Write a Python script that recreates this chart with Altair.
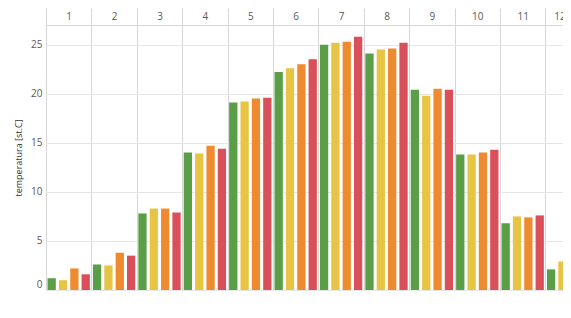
import altair as alt
import pandas as pd

months = list(range(1, 13))
series = ["seria 1", "seria 2", "seria 3", "seria 4"]
colors = ["#5a9e48", "#e8c444", "#ee8b30", "#d9505a"]

green = [1.2, 2.6, 7.8, 14.0, 19.1, 22.2, 25.0, 24.1, 20.4, 13.8, 6.8, 2.1]
yellow = [1.0, 2.5, 8.3, 13.9, 19.2, 22.6, 25.2, 24.5, 19.8, 13.8, 7.5, 2.9]
orange = [2.2, 3.8, 8.3, 14.7, 19.5, 23.0, 25.3, 24.6, 20.5, 14.0, 7.4, 3.7]
red = [1.6, 3.5, 7.9, 14.4, 19.6, 23.5, 25.8, 25.2, 20.4, 14.3, 7.6, 3.3]

rows = []
for i, m in enumerate(months):
    for j, (s, vals) in enumerate(zip(series, [green, yellow, orange, red])):
        rows.append({"miesiac": m, "idx": j, "seria": s, "temperatura": vals[i]})
df = pd.DataFrame(rows)

FONT = "Open Sans"
COL_PX = 45.4          # width of one month column in pixels
PLOT_W = 517           # visible part of the plot (the 12th month is cut off)
PLOT_H = 265

chart = (
    alt.Chart(df)
    .transform_calculate(
        x0="(datum.miesiac - 1) + 0.25 * (datum.idx + 0.135)",
        x1="(datum.miesiac - 1) + 0.25 * (datum.idx + 0.135) + 0.25 * 0.73",
    )
    .mark_bar(clip=True)
    .encode(
        x=alt.X(
            "x0:Q",
            scale=alt.Scale(domain=[0, PLOT_W / COL_PX], nice=False, zero=False),
            axis=alt.Axis(
                orient="top", title=None, labelAngle=0,
                values=[m - 1 for m in months],
                labelExpr="'' + (datum.value + 1)",
                labelOffset={"condition": {"test": "datum.value === 11", "value": 14},
                             "value": COL_PX / 2},
                labelAlign="center", labelFlush=False,
                grid=True, gridColor="#d6d6d6", ticks=True, tickSize=17,
                tickColor="#d6d6d6", domain=True, domainColor="#d6d6d6",
                labelPadding=-13, labelFontSize=10, labelColor="#595959",
                labelFont=FONT, labelBound=False, labelOverlap=False,
            ),
        ),
        x2="x1:Q",
        y=alt.Y(
            "temperatura:Q",
            scale=alt.Scale(domain=[0, 27], nice=False),
            axis=alt.Axis(
                title="temperatura [st.C]", values=[0, 5, 10, 15, 20, 25],
                titleFontSize=9, titleFontWeight="normal", titleColor="#333333",
                titleFont=FONT, labelFont=FONT,
                labelFontSize=10, labelColor="#595959", ticks=False, domain=False,
                labelOffset={"condition": {"test": "datum.value === 0", "value": -6}, "value": 0},
                grid=True, gridColor="#e6e6e6", labelPadding=4, titlePadding=7,
            ),
        ),
        y2=alt.datum(0),
        color=alt.Color("seria:N", sort=series,
                        scale=alt.Scale(domain=series, range=colors), legend=None),
    )
    .properties(
        width=PLOT_W, height=PLOT_H,
        autosize=alt.AutoSizeParams(type="none"),
        padding={"left": 38, "top": 17, "right": 0, "bottom": 12},
    )
    .configure_view(stroke=None)
)

chart.save("out.html", embed_options={"renderer": "svg", "actions": False})
